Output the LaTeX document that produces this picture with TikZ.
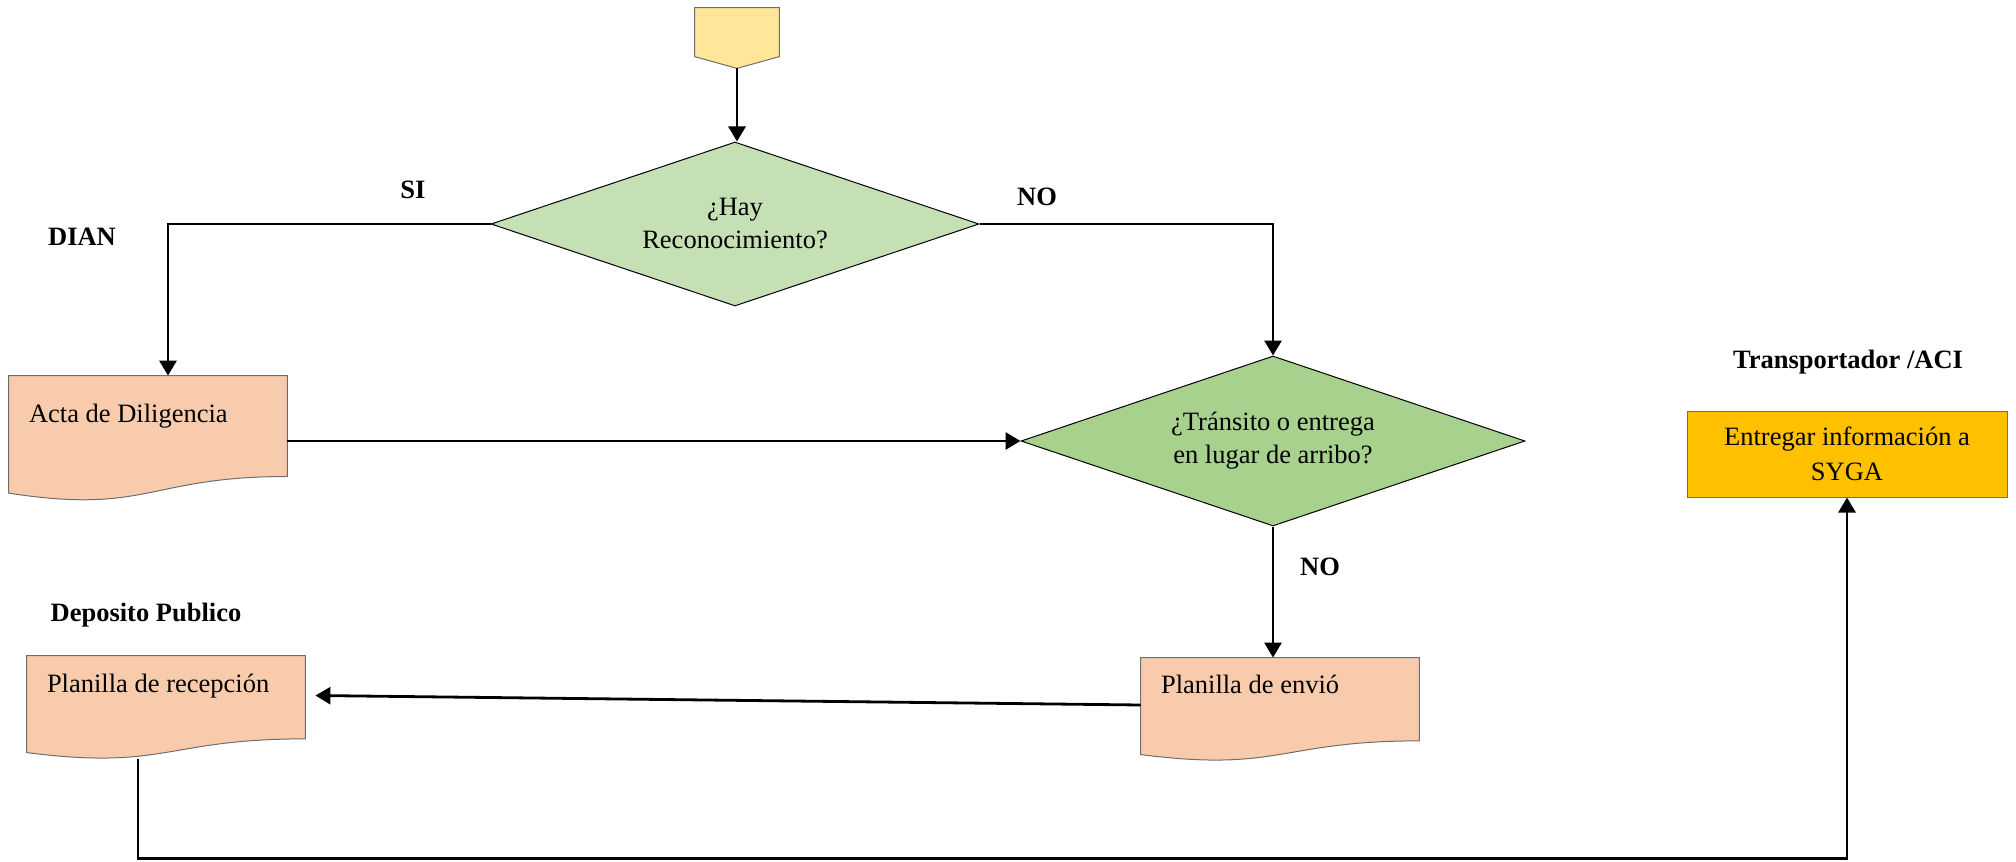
\documentclass[tikz,border=0pt]{standalone}
\usepackage{fontspec}
\setmainfont{Liberation Serif}
\usetikzlibrary{shapes.geometric,arrows.meta,calc}
\pgfdeclarelayer{background}
\pgfsetlayers{background,main}

\definecolor{startfill}{HTML}{FFE699}
\definecolor{qone}{HTML}{C5E0B4}
\definecolor{qtwo}{HTML}{A9D18E}
\definecolor{docfill}{HTML}{F8CBAD}
\definecolor{taskfill}{HTML}{FFC000}
\definecolor{edgegray}{HTML}{6E6E6E}

\tikzset{
  txt/.style={font=\fontsize{13.25}{16.5}\selectfont, inner sep=0pt},
  lbl/.style={font=\fontsize{13.25}{16.5}\selectfont\bfseries, inner sep=0pt},
  conn/.style={line width=1.4pt, -{Triangle[length=7.5pt,width=8.5pt]}},
  docbox/.style={rectangle, inner sep=0pt, minimum width=139pt, minimum height=#1},
  docline/.style={draw=edgegray, line width=0.5pt, fill=docfill},
  decision/.style={diamond, aspect=3, inner sep=0pt, draw=black, line width=0.5pt,
    align=center, font=\fontsize{13.25}{16.5}\selectfont},
  task/.style={rectangle, draw=edgegray, line width=0.5pt, fill=taskfill, align=center,
    minimum width=160pt, minimum height=43pt, inner sep=0pt,
    font=\fontsize{13.25}{17.5}\selectfont},
}

% document symbol with a wavy lower edge, drawn behind a named box
\newcommand\docshape[1]{%
  \begin{pgfonlayer}{background}
    \draw[docline] (#1.north west) -- (#1.north east)
      -- ($(#1.north east)!0.802!(#1.south east)$)
      .. controls ($(#1.north)!0.802!(#1.south)$) and ($(#1.north)!1.107!(#1.south)$)
      .. ($(#1.north west)!0.934!(#1.south west)$) -- cycle;
  \end{pgfonlayer}}

\begin{document}
\begin{tikzpicture}[x=0.5pt,y=-0.5pt]
\useasboundingbox (0,0) rectangle (2016,861);

% off-page connector at the top
\node[rectangle, inner sep=0pt, minimum width=42pt, minimum height=30pt] (start) at (737,38) {};
\begin{pgfonlayer}{background}
  \draw[draw=edgegray, line width=0.5pt, fill=startfill]
    (start.north west) -- (start.north east) -- ($(start.north east)+(0,49)$)
    -- (start.south) -- ($(start.north west)+(0,49)$) -- cycle;
\end{pgfonlayer}

% decisions
\node[decision, fill=qone, minimum width=244pt, minimum height=82pt] (d1) at (735,224)
  {¿Hay\\Reconocimiento?};
\node[decision, fill=qtwo, minimum width=252pt, minimum height=85pt] (d2) at (1273,441)
  {¿Tránsito o entrega\\en lugar de arribo?};

% documents
\node[docbox=62.5pt] (acta) at (148,438.5) {};
\docshape{acta}
\node[txt, anchor=west] (acta-t) at ($(acta.north west)+(20,41)$) {Acta de Diligencia};

\node[docbox=51.5pt] (envio) at (1280,709.5) {};
\docshape{envio}
\node[txt, anchor=west] (envio-t) at ($(envio.north west)+(20,27)$) {Planilla de envió};

\node[docbox=51.5pt] (recep) at (166,707.5) {};
\docshape{recep}
\node[txt, anchor=west] (recep-t) at ($(recep.north west)+(20,31)$) {Planilla de recepción};

% process box
\node[task] (syga) at (1847,454) {Entregar información a\\SYGA};

% lane and branch labels
\node[lbl] (dian) at (82,237) {DIAN};
\node[lbl] (si) at (413,190) {SI};
\node[lbl] (no1) at (1037,197) {NO};
\node[lbl] (no2) at (1320,567) {NO};
\node[lbl] (depo) at (146,615) {Deposito Publico};
\node[lbl] (trans) at (1848,362) {Transportador /ACI};

% connectors
\draw[conn] (start.south) -- (start.south |- d1.north);
\draw[conn] (d1.west) -| ([xshift=10pt]acta.north);
\draw[conn] (d1.east) -| (d2.north);
\draw[conn] (acta.east |- d2.west) -- (d2.west);
\draw[conn] (d2.south) -- (d2.south |- envio.north);
\draw[conn] ([yshift=2.25pt]envio.west) -- ([xshift=5pt,yshift=6pt]recep.east);
\draw[conn] ([xshift=-14pt]recep.south) -- ++(0,99) -| (syga.south);
\end{tikzpicture}
\end{document}
